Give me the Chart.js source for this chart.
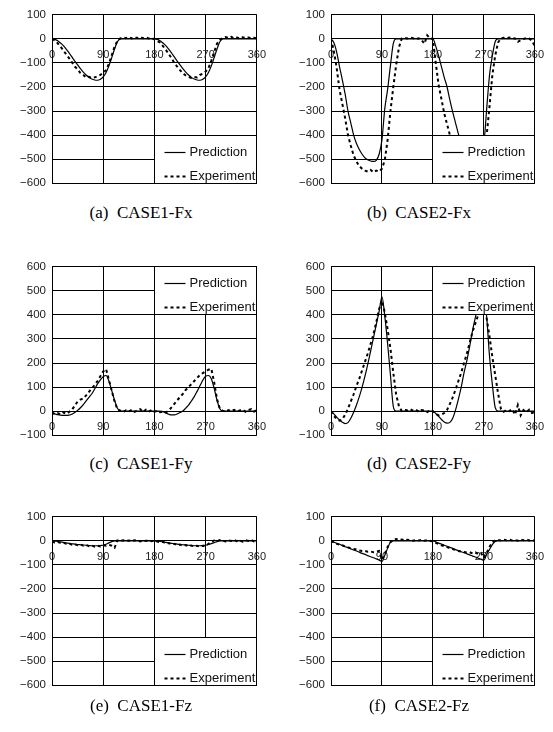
<!DOCTYPE html>
<html>
<head>
<meta charset="utf-8">
<script src="https://cdn.jsdelivr.net/npm/chart.js@4.4.1/dist/chart.umd.min.js"></script>
<style>
  html, body { margin: 0; padding: 0; background: #fff; }
  #page { position: relative; width: 553px; height: 732px; overflow: hidden; background: #fff; }
  .panel { position: absolute; }
  .caption { position: absolute; width: 240px; margin-left: -120px; text-align: center; white-space: pre;
             font-family: "Liberation Serif", "Times New Roman", serif; font-size: 17px; line-height: 20px; color: #000; }
</style>
</head>
<body>
<div id="page"></div>
<script>
// ---------------- data ----------------
const angles = [0,5,10,15,20,25,30,35,40,45,50,55,60,65,70,75,80,85,90,95,100,105,110,115,120,125,130,135,140,145,150,155,160,165,170,175,180,185,190,195,200,205,210,215,220,225,230,235,240,245,250,255,260,265,270,275,280,285,290,295,300,305,310,315,320,325,330,335,340,345,350,355,360];

const xTickLabels = ['0','90','180','270','360'];
const yTickLabelsNeg = ['\u2212600','\u2212500','\u2212400','\u2212300','\u2212200','\u2212100','0','100'];
const yTickLabelsPos = ['\u2212100','0','100','200','300','400','500','600'];
const seriesNames = ['Prediction','Experiment'];
const captions = ['(a)  CASE1-Fx','(b)  CASE2-Fx','(c)  CASE1-Fy','(d)  CASE2-Fy','(e)  CASE1-Fz','(f)  CASE2-Fz'];

// (a) CASE1-Fx
const case1FxPred = [0,-2,-8,-17,-28,-42,-58,-75,-92,-108,-124,-138,-150,-160,-167,-171,-172,-168,-158,-140,-112,-78,-42,-12,0,
  0,0,0,0,0,0,0,0,0,0,0,0,
  -2,-8,-17,-28,-42,-58,-75,-92,-108,-124,-138,-150,-160,-167,-171,-172,-168,-158,-140,-112,-78,-42,-12,0,
  0,0,0,0,0,0,0,0,0,0,0,0];
const case1FxExp = [0,-6,-18,-32,-48,-64,-80,-97,-115,-126,-142,-150,-160,-158,-163,-160,-155,-150,-140,-130,-104,-68,-32,-8,2,
  6,3,8,2,7,4,8,3,6,2,5,-2,
  -8,-16,-30,-45,-62,-80,-100,-115,-130,-143,-152,-158,-162,-158,-160,-150,-145,-136,-122,-90,-55,-20,-4,3,
  8,4,9,3,6,2,7,4,6,3,5,2];

// (b) CASE2-Fx
const case2FxPred = [0,-15,-55,-115,-170,-230,-300,-350,-400,-435,-460,-480,-495,-503,-508,-510,-505,-480,-420,-290,-210,-110,-20,0,0,
  0,0,0,0,0,0,0,0,0,0,0,0,
  -30,-70,-115,-160,-200,-255,-305,-350,-395,-435,-465,-485,-500,-508,-510,-505,-490,-440,-290,-150,-70,-12,0,0,
  0,0,0,0,0,0,0,0,0,0,0,0];
const case2FxExp = [0,-50,-120,-210,-270,-330,-400,-445,-485,-510,-530,-540,-548,-552,-545,-555,-548,-552,-540,-505,-420,-300,-200,-110,-35,
  2,4,2,5,3,0,3,-5,-20,15,2,0,
  -100,-190,-250,-310,-355,-400,-440,-480,-510,-530,-542,-548,-552,-550,-548,-545,-535,-515,-400,-280,-150,-70,-15,2,
  5,3,6,4,2,-12,-5,0,4,2,-8,-30];

// (c) CASE1-Fy
const case1FyPred = [-10,-12,-15,-17,-18,-18,-17,-13,-6,3,14,27,42,57,72,92,113,130,143,148,125,85,45,12,0,
  0,0,0,0,0,0,0,0,0,0,0,0,
  0,0,-3,-8,-13,-16,-16,-12,-6,0,12,25,42,60,82,105,128,145,148,135,95,45,10,0,
  0,0,0,0,0,0,0,0,0,0,0,0];
const case1FyExp = [-5,-12,-8,-14,-6,-12,-4,5,22,40,48,52,65,80,95,108,125,145,165,175,130,85,40,8,2,
  -4,3,-2,5,-3,2,8,-4,6,-2,4,-3,
  2,-5,-2,-6,2,15,30,45,58,72,88,100,112,125,138,150,158,165,172,176,120,50,10,2,
  -3,4,0,5,-2,3,6,-3,4,8,-2,3];

// (d) CASE2-Fy
const case2FyPred = [0,-12,-25,-37,-47,-52,-48,-30,-5,25,60,100,145,195,250,305,360,415,475,395,280,150,20,0,0,
  0,0,0,0,0,0,0,0,0,0,0,0,
  -10,-22,-35,-45,-50,-47,-30,5,50,100,160,210,270,335,390,440,470,480,390,228,110,15,0,0,
  0,0,0,0,0,0,0,0,0,0,0,0];
const case2FyExp = [0,-20,-32,-40,-35,-15,10,40,70,105,135,170,205,240,280,320,370,425,460,410,340,260,160,70,20,
  0,5,3,8,2,6,-3,4,2,-4,3,0,
  -12,-18,-15,-8,5,30,57,90,125,160,200,240,285,330,365,400,440,470,385,310,225,150,75,10,
  -3,5,0,8,-15,25,-18,4,-5,6,-8,-4];

// (e) CASE1-Fz
const case1FzPred = [0,-1,-2,-4,-6,-8,-10,-12,-13,-15,-16,-17,-18,-19,-20,-20,-20,-19,-18,-14,-8,-3,0,0,0,
  0,0,0,0,0,0,0,0,0,0,0,0,
  -1,-2,-4,-6,-8,-10,-12,-13,-15,-16,-17,-18,-19,-20,-20,-20,-19,-18,-15,-11,-7,-3,0,0,
  0,0,0,0,0,0,0,0,0,0,0,0];
const case1FzExp = [-3,-6,-4,-8,-7,-12,-10,-16,-14,-18,-15,-20,-17,-22,-19,-24,-20,-23,-18,-20,-16,-20,-28,2,-1,
  3,0,2,-1,3,1,-2,2,0,3,-1,2,
  -3,-5,-4,-10,-9,-14,-12,-18,-15,-20,-17,-22,-19,-23,-20,-24,-20,-22,-12,-4,2,-1,4,1,
  -2,3,0,4,-1,2,-3,3,0,4,-2,2];

// (f) CASE2-Fz
const case2FzPred = [0,-5,-10,-14,-19,-24,-28,-33,-38,-42,-47,-52,-56,-61,-66,-70,-75,-80,-85,-60,-30,-5,0,0,0,
  0,0,0,0,0,0,0,0,0,0,0,0,
  -4,-9,-13,-18,-22,-27,-31,-36,-40,-45,-49,-54,-58,-63,-67,-72,-76,-80,-55,-35,-15,-2,0,0,
  0,0,0,0,0,0,0,0,0,0,0,0];
const case2FzExp = [0,-6,-12,-15,-18,-23,-27,-31,-33,-36,-40,-42,-42,-45,-44,-47,-45,-42,-78,-55,-25,-5,3,8,4,
  6,2,5,3,1,4,2,5,1,3,0,-2,
  -8,-12,-18,-22,-26,-30,-34,-38,-42,-44,-46,-48,-47,-52,-48,-55,-50,-70,-50,-25,-5,2,4,2,
  5,3,6,2,4,1,5,3,6,2,4,1];

// ---------------- layout / style ----------------
const FONT = '"Liberation Sans", Arial, sans-serif';
const panels = [
  { pred: case1FxPred, exp: case1FxExp, yMin: -600, yMax: 100, yLabels: yTickLabelsNeg, box: [180, 360, -400, -600], left: 0,   top: 2,   axisW: 52, capX: 141, capY: 203 },
  { pred: case2FxPred, exp: case2FxExp, yMin: -600, yMax: 100, yLabels: yTickLabelsNeg, box: [180, 360, -400, -600], left: 278, top: 2,   axisW: 53, capX: 419, capY: 203 },
  { pred: case1FyPred, exp: case1FyExp, yMin: -100, yMax: 600, yLabels: yTickLabelsPos, box: [180, 360, 600, 400],   left: 0,   top: 254, axisW: 52, capX: 141, capY: 454 },
  { pred: case2FyPred, exp: case2FyExp, yMin: -100, yMax: 600, yLabels: yTickLabelsPos, box: [180, 360, 600, 400],   left: 278, top: 254, axisW: 53, capX: 419, capY: 454 },
  { pred: case1FzPred, exp: case1FzExp, yMin: -600, yMax: 100, yLabels: yTickLabelsNeg, box: [180, 360, -400, -600], left: 0,   top: 504, axisW: 52, capX: 141, capY: 696 },
  { pred: case2FzPred, exp: case2FzExp, yMin: -600, yMax: 100, yLabels: yTickLabelsNeg, box: [180, 360, -400, -600], left: 278, top: 504, axisW: 53, capX: 419, capY: 696 }
];
const CANVAS_W = 275, CANVAS_H = 194, PAD_TOP = 8, PLOT_W = 211;

function align(px) { return Math.round(px - 0.5) + 0.5; }

const boxLegend = {
  id: 'boxLegend',
  afterDatasetsDraw(chart, args, opts) {
    const { ctx, scales: { x, y } } = chart;
    const L = align(x.getPixelForValue(opts.box[0])), R = align(x.getPixelForValue(opts.box[1]));
    const T = align(y.getPixelForValue(opts.box[2])), B = align(y.getPixelForValue(opts.box[3]));
    ctx.save();
    ctx.fillStyle = '#fff';
    ctx.fillRect(L, T, R - L, B - T);
    ctx.strokeStyle = '#000';
    ctx.lineWidth = 1;
    ctx.strokeRect(L, T, R - L, B - T);
    chart.data.datasets.forEach((ds, i) => {
      const cy = Math.round(T + 16 + i * 24) + 0.5;
      ctx.beginPath();
      ctx.setLineDash(ds.borderDash || []);
      ctx.lineWidth = ds.borderWidth;
      ctx.strokeStyle = '#000';
      ctx.moveTo(L + 10, cy);
      ctx.lineTo(L + 31, cy);
      ctx.stroke();
      ctx.setLineDash([]);
      ctx.fillStyle = '#111';
      ctx.font = '13px ' + FONT;
      ctx.textBaseline = 'middle';
      ctx.textAlign = 'left';
      ctx.fillText(ds.label, L + 35, cy);
    });
    ctx.restore();
  }
};

const page = document.getElementById('page');
panels.forEach((p, idx) => {
  const wrap = document.createElement('div');
  wrap.className = 'panel';
  wrap.style.left = p.left + 'px';
  wrap.style.top = p.top + 'px';
  wrap.style.width = CANVAS_W + 'px';
  wrap.style.height = CANVAS_H + 'px';
  const cv = document.createElement('canvas');
  cv.width = CANVAS_W; cv.height = CANVAS_H;
  cv.style.width = CANVAS_W + 'px'; cv.style.height = CANVAS_H + 'px';
  wrap.appendChild(cv);
  page.appendChild(wrap);

  const cap = document.createElement('div');
  cap.className = 'caption';
  cap.style.left = p.capX + 'px';
  cap.style.top = p.capY + 'px';
  cap.textContent = captions[idx];
  page.appendChild(cap);

  const padRight = CANVAS_W - p.axisW - PLOT_W;
  new Chart(cv, {
    type: 'line',
    data: {
      datasets: [
        { label: seriesNames[0], data: angles.map((a, i) => ({ x: a, y: p.pred[i] })),
          borderColor: '#000', borderWidth: 1.2, pointRadius: 0, cubicInterpolationMode: 'monotone', fill: false },
        { label: seriesNames[1], data: angles.map((a, i) => ({ x: a, y: p.exp[i] })),
          borderColor: '#000', borderWidth: 2, borderDash: [3, 3], pointRadius: 0, tension: 0, fill: false }
      ]
    },
    options: {
      responsive: false,
      animation: false,
      devicePixelRatio: 1,
      layout: { padding: { left: 0, right: padRight, top: PAD_TOP, bottom: PAD_TOP } },
      plugins: { legend: { display: false }, tooltip: { enabled: false }, boxLegend: { box: p.box } },
      scales: {
        x: {
          type: 'linear', min: 0, max: 360, position: { y: 0 },
          ticks: { stepSize: 90, autoSkip: false, maxRotation: 0, padding: 9, color: '#222',
                   font: { family: FONT, size: 11 }, callback: (v, i) => xTickLabels[i] },
          grid: { color: '#000', lineWidth: 1, drawTicks: false },
          border: { color: '#000', width: 1 }
        },
        y: {
          type: 'linear', min: p.yMin, max: p.yMax,
          ticks: { stepSize: 100, padding: 6, color: '#222', font: { family: FONT, size: 11.5 },
                   callback: (v, i) => p.yLabels[i] },
          grid: { color: '#000', lineWidth: 1, drawTicks: false },
          border: { color: '#000', width: 1 },
          afterFit: (scale) => { scale.width = p.axisW; }
        }
      }
    },
    plugins: [boxLegend]
  });
});
</script>
</body>
</html>
